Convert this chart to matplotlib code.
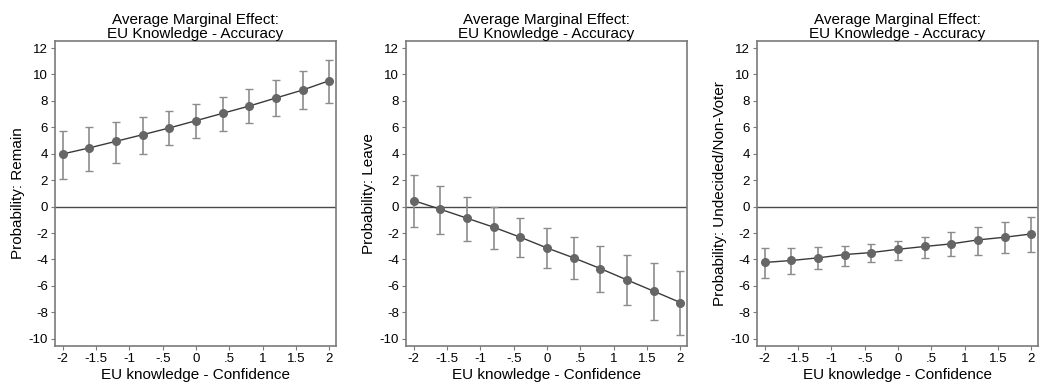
import numpy as np
import matplotlib
matplotlib.use("Agg")
import matplotlib.pyplot as plt

plt.rcParams['font.family'] = ['Liberation Sans', 'DejaVu Sans']
plt.rcParams['axes.unicode_minus'] = False

x = [-2, -1.6, -1.2, -0.8, -0.4, 0, 0.4, 0.8, 1.2, 1.6, 2]

remain = [3.98, 4.44, 4.94, 5.44, 5.95, 6.5, 7.06, 7.61, 8.22, 8.82, 9.53]
remain_hi = [5.7, 6.05, 6.4, 6.8, 7.26, 7.76, 8.32, 8.9, 9.58, 10.29, 11.09]
remain_lo = [2.12, 2.72, 3.33, 3.98, 4.64, 5.19, 5.75, 6.3, 6.86, 7.36, 7.86]

leave = [0.45, -0.2, -0.88, -1.56, -2.32, -3.13, -3.88, -4.69, -5.55, -6.4, -7.26]
leave_hi = [2.37, 1.56, 0.76, -0.05, -0.86, -1.61, -2.32, -3.02, -3.68, -4.29, -4.89]
leave_lo = [-1.56, -2.07, -2.57, -3.18, -3.83, -4.64, -5.5, -6.45, -7.46, -8.57, -9.68]

undec = [-4.23, -4.08, -3.88, -3.63, -3.48, -3.23, -3.02, -2.82, -2.52, -2.32, -2.07]
undec_hi = [-3.13, -3.13, -3.08, -2.97, -2.82, -2.57, -2.27, -1.92, -1.56, -1.16, -0.81]
undec_lo = [-5.39, -5.09, -4.74, -4.49, -4.18, -4.03, -3.88, -3.73, -3.63, -3.53, -3.43]

ylabels = ["Probability: Remain", "Probability: Leave", "Probability: Undecided/Non-Voter"]
xticks = [-2, -1.5, -1, -0.5, 0, 0.5, 1, 1.5, 2]
xticklabels = ["-2", "-1.5", "-1", "-.5", "0", ".5", "1", "1.5", "2"]
yticks = list(range(-10, 13, 2))

series = [(remain, remain_lo, remain_hi),
          (leave, leave_lo, leave_hi),
          (undec, undec_lo, undec_hi)]

fig = plt.figure(figsize=(10.41, 3.83), dpi=100)
lefts = [55/1041, 406/1041, 757/1041]
w = 281/1041
b = 1 - 346/383
h = 305/383

frame = '#7a7a7a'
for k, (y, lo, hi) in enumerate(series):
    ax = fig.add_axes([lefts[k], b, w, h])
    y = np.array(y)
    lo = np.array(lo)
    hi = np.array(hi)
    ax.axhline(0, color='#4a4a4a', lw=1.0, zorder=1)
    ax.errorbar(x, y, yerr=[y - lo, hi - y], fmt='none', ecolor='#8c8c8c',
                elinewidth=1.2, capsize=3, capthick=1.0, zorder=2)
    ax.plot(x, y, '-', color='#3a3a3a', lw=1.0, zorder=3)
    ax.plot(x, y, 'o', color='#666666', ms=5.5, zorder=4)
    ax.set_xlim(-2.115, 2.1)
    ax.set_ylim(-10.55, 12.53)
    ax.set_xticks(xticks)
    ax.set_xticklabels(xticklabels)
    ax.set_yticks(yticks)
    ax.tick_params(axis='both', length=3, width=0.8, color=frame,
                   labelsize=9.5, pad=2)
    for sp in ax.spines.values():
        sp.set_color(frame)
        sp.set_linewidth(1.2)
    ax.set_xlabel("EU knowledge - Confidence", fontsize=11, labelpad=2)
    ax.set_ylabel(ylabels[k], fontsize=11, labelpad=3)
    ax.set_title("Average Marginal Effect:\nEU Knowledge - Accuracy",
                 fontsize=11, pad=2, linespacing=1.0)

fig.savefig("out.png", dpi=100)
